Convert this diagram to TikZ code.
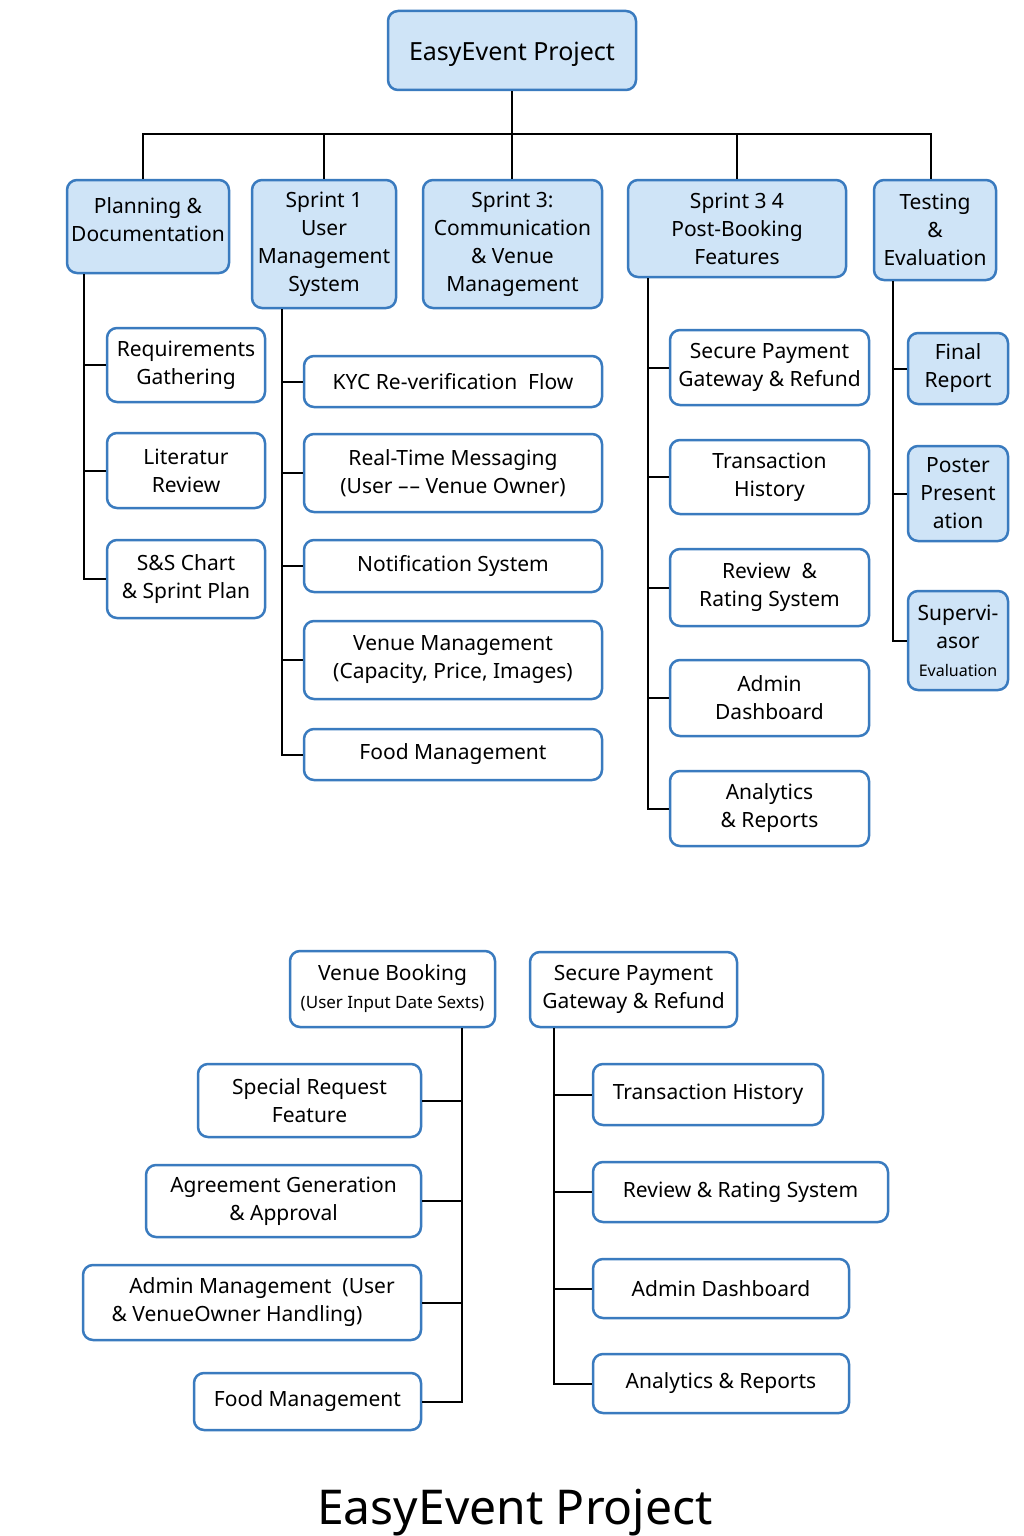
\documentclass[tikz,border=0pt]{standalone}
\usepackage{fontspec}
\setmainfont{Noto Sans}
\definecolor{bblue}{HTML}{3A7BBF}
\definecolor{lblue}{HTML}{CFE4F7}
\tikzset{
  base/.style={draw=bblue, line width=2.5pt, rounded corners=10pt, align=center, inner sep=2pt,
    font=\fontsize{21}{28}\selectfont, text=black},
  lvl/.style={base, fill=lblue},
  wbox/.style={base, fill=white},
  conn/.style={draw=black, line width=2pt},
}
\newcommand{\bx}[7]{\node[#1, minimum width=#4-#2, minimum height=#5-#3] (#6) at ({(#2+#4)/2},{(#3+#5)/2}) {#7};}
\begin{document}
\begin{tikzpicture}[x=1pt,y=-1pt]
\useasboundingbox (0,0) rectangle (1024,1536);
\fill[white] (0,0) rectangle (1024,1536);
% root
\bx{lvl, font=\fontsize{25}{30}\selectfont, text height=27pt, text depth=6pt}{388}{11}{636}{90}{root}{EasyEvent Project}
% level 1
\bx{lvl}{67}{180}{229}{273}{plan}{Planning \&\\Documentation\\[-14pt]\mbox{}}
\bx{lvl}{252}{180}{396}{308}{sa}{Sprint 1\\User\\Management\\System}
\bx{lvl}{423}{180}{602}{308}{sb}{Sprint 3:\\Communication\\\& Venue\\Management}
\bx{lvl}{628}{180}{846}{277}{sc}{Sprint 3 4\\Post-Booking\\Features}
\bx{lvl}{874}{180}{996}{280}{test}{Testing\\\&\\Evaluation}
% planning children
\bx{wbox}{107}{328}{265}{402}{req}{Requirements\\Gathering}
\bx{wbox}{107}{433}{265}{508}{lit}{Literatur\\Review}
\bx{wbox}{107}{540}{265}{618}{ss}{S\&S Chart\\\& Sprint Plan}
% sprint 1 children
\bx{wbox}{304}{356}{602}{407}{kyc}{KYC Re-verification\ \ Flow}
\bx{wbox}{304}{434}{602}{512}{rtm}{Real-Time Messaging\\(User –\kern1pt– Venue Owner)}
\bx{wbox}{304}{540}{602}{592}{notif}{Notification System}
\bx{wbox}{304}{621}{602}{699}{venue}{Venue Management\\(Capacity, Price, Images)}
\bx{wbox}{304}{729}{602}{780}{food}{Food Management}
% sprint 34 children
\bx{wbox}{670}{330}{869}{405}{pay}{Secure Payment\\Gateway \& Refund}
\bx{wbox}{670}{440}{869}{514}{trans}{Transaction\\History}
\bx{wbox}{670}{549}{869}{626}{rev}{Review\ \ \&\\Rating System}
\bx{wbox}{670}{660}{869}{736}{adm}{Admin\\Dashboard}
\bx{wbox}{670}{771}{869}{846}{ana}{Analytics\\\& Reports}
% testing children
\bx{lvl}{908}{333}{1008}{404}{fin}{Final\\Report}
\bx{lvl}{908}{446}{1008}{541}{post}{Poster\\Present\\ation}
\bx{lvl}{908}{591}{1008}{690}{sup}{Supervi-\\asor\\{\fontsize{16}{20}\selectfont Evaluation}}
% bottom left group
\bx{wbox}{290}{951}{495}{1027}{vb}{Venue Booking\\{\fontsize{17}{24}\selectfont (User Input Date Sexts)}}
\bx{wbox}{198}{1064}{421}{1137}{spr}{Special Request\\Feature}
\bx{wbox}{146}{1165}{421}{1237}{agr}{Agreement Generation\\\& Approval}
\bx{wbox}{83}{1265}{421}{1340}{admm}{\hspace*{20pt}Admin Management\ \ (User\\\& VenueOwner Handling)\hspace*{30pt}}
\bx{wbox}{194}{1373}{421}{1430}{food2}{Food Management}
% bottom right group
\bx{wbox}{530}{952}{737}{1027}{pay2}{Secure Payment\\Gateway \& Refund}
\bx{wbox}{593}{1064}{823}{1125}{trans2}{Transaction History}
\bx{wbox}{593}{1162}{888}{1222}{rev2}{Review \& Rating System}
\bx{wbox}{593}{1259}{849}{1318}{adm2}{Admin Dashboard}
\bx{wbox}{593}{1354}{849}{1413}{ana2}{Analytics \& Reports}
% title
\node[font=\fontsize{48}{56}\selectfont] (title) at (515,1513) {EasyEvent Project};
% connectors level 0 -> 1
\draw[conn] (root.south) -- ++(0,43) coordinate (bus);
\draw[conn] ([xshift=-5pt]plan.north) |- (bus) -| ([xshift=-4pt]test.north);
\draw[conn] (sa.north) -- (sa.north |- bus);
\draw[conn] ([xshift=-0.5pt]sb.north) -- ([xshift=-0.5pt]sb.north |- bus);
\draw[conn] (sc.north) -- (sc.north |- bus);
% planning spine
\foreach \c in {req,lit,ss} \draw[conn] ([xshift=18pt]plan.south west) |- (\c.west);
% sprint 1 spine
\foreach \c in {kyc,rtm,notif,venue,food} \draw[conn] ([xshift=31pt]sa.south west) |- (\c.west);
% sprint 34 spine
\foreach \c in {pay,trans,rev,adm,ana} \draw[conn] ([xshift=21pt]sc.south west) |- (\c.west);
% testing spine
\foreach \c in {fin,post,sup} \draw[conn] ([xshift=20pt]test.south west) |- (\c.west);
% bottom left spine
\foreach \c in {spr,agr,admm,food2} \draw[conn] ([xshift=173pt]vb.south west) |- (\c.east);
% bottom right spine
\foreach \c in {trans2,rev2,adm2,ana2} \draw[conn] ([xshift=25pt]pay2.south west) |- (\c.west);
\end{tikzpicture}
\end{document}
